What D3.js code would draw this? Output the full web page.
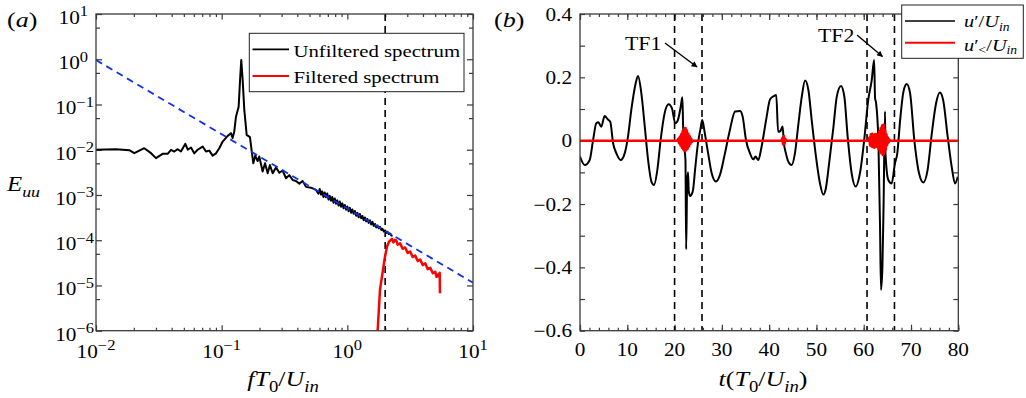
<!DOCTYPE html>
<html><head><meta charset="utf-8">
<script src="https://cdn.jsdelivr.net/npm/d3@7"></script>
<style>body{margin:0;background:#fff}svg{display:block}</style>
</head><body>
<svg id="c" width="1026" height="398"></svg>
<script>
// ---------- Panel (a): spectra ----------
const specF = [0.01,0.01442,0.01841,0.02018,0.02421,0.02742,0.03,0.03388,0.03715,0.03954,0.04198,0.04467,0.04742,0.0514,0.0537,0.057,0.0605,0.0644,0.0706,0.075,0.0798,0.0847,0.0902,0.0957,0.1019,0.1117,0.1186,0.1222,0.1259,0.13,0.1365,0.1406,0.1432,0.1469,0.1514,0.1581,0.1679,0.1742,0.1786,0.1849,0.1932,0.1991,0.2118,0.2213,0.2323,0.2421,0.2547,0.2704,0.2877,0.3055,0.3251,0.3451,0.3673,0.3899,0.415,0.4406,0.4688,0.514,0.5623,
 0.5888,0.6026,0.6166,0.631,0.6457,0.6607,0.6761,0.6918,0.7079,0.7244,0.7413,0.7586,0.7762,0.7943,0.8128,0.8318,0.8511,0.871,0.8913,0.912,0.9333,0.955,0.9772,1.0,1.023,1.047,1.072,1.096,1.122,1.148,1.175,1.202,1.23,1.259,1.288,1.318,1.349,1.38,1.413,1.445,1.479,1.514,1.549,1.585,1.622,1.66,1.698,1.738,1.778,1.82,1.862,1.905,1.95,1.995,2.042,2.089,2.138,2.188,2.239,2.291];
const specE = [0.00993,0.01028,0.00977,0.00839,0.01081,0.00839,0.00652,0.00813,0.00813,0.00993,0.00912,0.01028,0.00912,0.01349,0.01,0.01122,0.00832,0.01,0.01175,0.00912,0.00955,0.00741,0.00832,0.01081,0.01514,0.02023,0.02323,0.0182,0.02512,0.0537,0.0891,0.412,0.966,0.349,0.0759,0.02128,0.01905,0.00839,0.00501,0.00741,0.00562,0.00708,0.00331,0.00501,0.00302,0.00457,0.00302,0.00407,0.00309,0.00347,0.00234,0.00275,0.00214,0.00204,0.00178,0.00204,0.00151,0.00145,0.0013,
 1.072e-3,1.361e-3,1.016e-3,1.202e-3,8.99e-4,1.140e-3,8.91e-4,1.081e-3,7.89e-4,9.55e-4,7.48e-4,9.06e-4,6.76e-4,8.39e-4,6.41e-4,7.59e-4,5.81e-4,7.19e-4,5.50e-4,6.52e-4,5.09e-4,6.03e-4,4.72e-4,5.58e-4,4.37e-4,5.18e-4,4.05e-4,4.79e-4,3.84e-4,4.44e-4,3.47e-4,4.02e-4,3.21e-4,3.80e-4,3.05e-4,3.44e-4,2.75e-4,3.19e-4,2.61e-4,2.95e-4,2.42e-4,2.74e-4,2.24e-4,2.54e-4,2.07e-4,2.29e-4,1.92e-4,2.12e-4,1.82e-4,1.97e-4,1.69e-4,1.78e-4,1.56e-4,1.65e-4,1.45e-4,1.53e-4,1.37e-4,1.41e-4,1.27e-4,1.25e-4];
const filtF = [1.742,1.82,1.923,1.995,2.07,2.148,2.265,2.328,2.393,2.455,2.512,2.63,2.754,2.884,3.02,3.162,3.311,3.467,3.631,3.802,3.981,4.169,4.365,4.571,4.786,5.012,5.129,5.248,5.37,5.433,5.458];
const filtE = [1e-6,8.13e-6,2.24e-5,4.37e-5,7.24e-5,9.33e-5,1.07e-4,8.91e-5,1.02e-4,9.77e-5,7.94e-5,8.51e-5,6.46e-5,6.92e-5,5.25e-5,5.62e-5,4.27e-5,4.57e-5,3.47e-5,3.72e-5,2.82e-5,3.09e-5,2.29e-5,2.45e-5,1.86e-5,2.0e-5,1.55e-5,1.74e-5,1.58e-5,1.91e-5,6.76e-6];
const slopeF = [0.01, 10];
const slopeE = [0.96, 1.15e-5];
const cutoffF = [2];
const specXTicks = [1e-2, 1e-1, 1e0, 1e1];
const specXExp = ["−2", "−1", "0", "1"];
const specYTicks = [1e1, 1e0, 1e-1, 1e-2, 1e-3, 1e-4, 1e-5, 1e-6];
const specYExp = ["1", "0", "−1", "−2", "−3", "−4", "−5", "−6"];
const legendA = ["Unfiltered spectrum", "Filtered spectrum"];

// ---------- Panel (b): time signals ----------
const timeT = [0,1.0,2.05,2.75,3.45,3.9,4.5,5.2,5.9,6.4,7.0,7.7,8.6,9.45,10.15,10.85,11.7,12.27,12.97,13.7,14.4,15.1,15.65,16.35,17.05,17.9,18.75,19.45,20.15,20.7,21.3,21.65,21.8,21.9,22.3,22.45,22.65,22.85,23.0,23.3,23.55,23.9,24.4,24.95,25.5,25.85,26.4,27.1,27.85,28.75,29.6,30.65,31.7,32.8,33.85,34.4,35.1,35.95,36.65,37.1,37.7,38.4,39.35,40.2,41.0,41.5,41.9,42.4,42.85,43.1,43.55,44.05,44.75,45.45,46.2,46.9,47.6,48.3,49.0,49.9,50.75,51.45,52.0,52.6,53.6,54.3,55.2,55.9,56.6,57.45,58.3,59.2,60.1,60.95,61.7,62.2,62.4,62.6,63.1,63.45,63.65,63.95,64.2,64.5,64.6,65.2,65.9,66.6,67.1,67.7,68.4,69.1,69.8,70.7,71.7,72.6,73.5,74.4,75.3,76.1,76.8,77.75,78.6,79.3,79.9];
const uBlack = [-0.05,-0.077,-0.061,0.0,0.055,0.058,0.044,0.078,0.067,0.06,-0.008,-0.04,-0.061,-0.04,0.013,0.097,0.176,0.204,0.15,0.044,-0.061,-0.129,-0.14,-0.093,0.002,0.087,0.115,0.102,0.055,0.065,0.107,0.137,0.05,0.0,-0.06,-0.343,-0.14,-0.10,-0.16,-0.175,-0.171,-0.156,-0.082,-0.008,0.039,0.065,0.023,-0.04,-0.103,-0.129,-0.108,-0.04,0.034,0.092,0.094,0.076,0.002,-0.04,-0.059,-0.05,-0.061,-0.019,0.065,0.131,0.141,0.144,0.028,0.031,0.045,-0.005,-0.04,-0.066,-0.077,-0.04,0.055,0.139,0.19,0.16,0.065,-0.05,-0.135,-0.17,-0.15,-0.082,0.044,0.139,0.173,0.139,0.013,-0.103,-0.145,-0.103,0.002,0.128,0.192,0.255,0.134,0.12,0.0,-0.27,-0.471,-0.4,-0.2,0.092,-0.04,-0.124,-0.135,-0.072,-0.04,0.065,0.155,0.179,0.15,0.002,-0.103,-0.132,-0.093,0.023,0.118,0.152,0.128,0.013,-0.082,-0.135,-0.114];
const redT = [0,20.6,20.8,20.95,21.1,21.25,21.4,21.55,21.7,21.85,22.0,22.15,22.3,22.45,22.6,22.75,22.9,23.05,23.2,23.35,23.5,23.65,23.8,42.6,42.8,42.95,43.1,43.25,43.4,43.6,61.0,61.2,61.35,61.5,61.65,61.8,61.95,62.1,62.25,62.4,62.55,62.7,62.85,63.0,63.15,63.3,63.45,63.6,63.75,63.9,64.05,64.2,64.35,64.5,64.65,64.8,64.95,65.1,65.25,65.4,65.6,80];
const uRed = [0,0,0.006,-0.008,0.012,-0.015,0.02,-0.022,0.03,-0.028,0.038,-0.032,0.04,-0.03,0.032,-0.025,0.022,-0.018,0.014,-0.01,0.007,-0.004,0,0,0.008,-0.012,0.015,-0.01,0.006,0,0,0.01,-0.015,0.02,-0.018,0.022,-0.02,0.018,-0.022,0.02,-0.018,0.02,-0.02,0.018,-0.025,0.03,-0.035,0.04,-0.04,0.048,-0.045,0.05,-0.04,0.035,-0.028,0.02,-0.014,0.01,-0.006,0.004,0,0];
const windowT = [20, 25.8, 60.7, 66.5];
const sigXTicks = [0,10,20,30,40,50,60,70,80];
const sigYTicks = [0.4,0.2,0,-0.2,-0.4,-0.6];
const sigYLabels = ["0.4","0.2","0","−0.2","−0.4","−0.6"];
const tfLabels = ["TF1","TF2"];

// ---------- drawing ----------
const svg = d3.select("#c");
const FONT = "'Liberation Serif','Times New Roman',serif";
const SX = 1.18;
const AX = "#3a3a3a";

function rich(parent, x, y, anchor, size, parts, fill) {
  const g = parent.append("g").attr("transform", `translate(${x},${y}) scale(${SX},1)`);
  const t = g.append("text").attr("text-anchor", anchor).attr("font-family", FONT)
    .attr("font-size", size).attr("fill", fill || "#000");
  let off = 0;
  parts.forEach(p => {
    const s = typeof p === "string" ? {t: p} : p;
    let target = 0, fs = size;
    if (s.sup) { target = -0.42 * size; fs = 0.72 * size; }
    if (s.sub) { target = 0.28 * size; fs = 0.72 * size; }
    if (s.raw != null) target = s.raw;
    if (s.fs) fs = s.fs;
    const ts = t.append("tspan").text(s.t).attr("font-size", fs).attr("dy", target - off);
    if (s.dx) ts.attr("dx", s.dx);
    if (s.it) ts.attr("font-style", "italic");
    off = target;
  });
  return g;
}

// ===== Panel (a) =====
const xL = d3.scaleLog().domain([1e-2, 1e1]).range([96, 473]);
const yL = d3.scaleLog().domain([1e-6, 1e1]).range([330.7, 14]);
const gA = svg.append("g");
svg.append("clipPath").attr("id", "clipA").append("rect")
  .attr("x", 96).attr("y", 14).attr("width", 377).attr("height", 316.7);

const minorX = [];
[-2, -1, 0].forEach(k => { for (let m = 2; m <= 9; m++) minorX.push(m * Math.pow(10, k)); });
const minorY = [-6,-5,-4,-3,-2,-1,0].map(k => 5 * Math.pow(10, k));

function tickAxis(g, axis, tx, ty) {
  g.append("g").attr("transform", `translate(${tx},${ty})`).call(axis)
    .call(s => s.select(".domain").remove())
    .call(s => s.selectAll("line").attr("stroke", AX).attr("stroke-width", 1.2));
}
tickAxis(gA, d3.axisBottom(xL).tickValues(specXTicks).tickSize(-5.5).tickFormat(""), 0, 330.7);
tickAxis(gA, d3.axisBottom(xL).tickValues(minorX).tickSize(-3).tickFormat(""), 0, 330.7);
tickAxis(gA, d3.axisTop(xL).tickValues(specXTicks).tickSize(-5.5).tickFormat(""), 0, 14);
tickAxis(gA, d3.axisTop(xL).tickValues(minorX).tickSize(-3).tickFormat(""), 0, 14);
tickAxis(gA, d3.axisLeft(yL).tickValues(specYTicks).tickSize(-6).tickFormat(""), 96, 0);
tickAxis(gA, d3.axisLeft(yL).tickValues(minorY).tickSize(-4).tickFormat(""), 96, 0);
tickAxis(gA, d3.axisRight(yL).tickValues(specYTicks).tickSize(-6).tickFormat(""), 473, 0);
tickAxis(gA, d3.axisRight(yL).tickValues(minorY).tickSize(-4).tickFormat(""), 473, 0);

const dA = gA.append("g").attr("clip-path", "url(#clipA)");
dA.append("line").attr("x1", xL(cutoffF[0])).attr("x2", xL(cutoffF[0]))
  .attr("y1", yL(1e1)).attr("y2", yL(1e-6))
  .attr("stroke", "#000").attr("stroke-width", 1.6).attr("stroke-dasharray", "7,5");
const lineA = d3.line().x(d => xL(d[0])).y(d => yL(d[1]));
dA.append("path").datum(d3.zip(specF, specE)).attr("d", lineA)
  .attr("fill", "none").attr("stroke", "#000").attr("stroke-width", 2).attr("stroke-linejoin", "round");
dA.append("path").datum(d3.zip(filtF, filtE)).attr("d", lineA)
  .attr("fill", "none").attr("stroke", "#f00").attr("stroke-width", 2.5).attr("stroke-linejoin", "round");
dA.append("path").datum(d3.zip(slopeF, slopeE)).attr("d", lineA)
  .attr("fill", "none").attr("stroke", "#1030ee").attr("stroke-width", 1.8).attr("stroke-dasharray", "7,5");

gA.append("rect").attr("x", 96).attr("y", 14).attr("width", 377).attr("height", 316.7)
  .attr("fill", "none").attr("stroke", AX).attr("stroke-width", 1.3);

// tick labels
specYTicks.forEach((v, i) => {
  const e = specYExp[i];
  const xe = e.startsWith("−") ? 94 : 88;
  rich(gA, xe, yL(v) + 10, "end", 18, ["10", {t: e, sup: true, fs: 14}]);
});
specXTicks.forEach((v, i) => {
  rich(gA, xL(v), 358, "middle", 18, ["10", {t: specXExp[i], sup: true, fs: 14}]);
});
// axis labels
rich(gA, 283, 386, "middle", 22, [{t: "f", it: true}, {t: "T", it: true}, {t: "0", sub: true}, {t: "/", raw: 0}, {t: "U", it: true}, {t: "in", it: true, sub: true}]);
rich(gA, 7, 191, "start", 21, [{t: "E", it: true}, {t: "uu", it: true, sub: true}]);
rich(gA, 7, 27, "start", 22, ["(", {t: "a", it: true}, ")"]);

// legend a
const lgA = gA.append("g");
lgA.append("rect").attr("x", 249.3).attr("y", 33.3).attr("width", 214.7).attr("height", 58.4)
  .attr("fill", "#fff").attr("stroke", "#222").attr("stroke-width", 1);
lgA.append("line").attr("x1", 252.5).attr("x2", 289).attr("y1", 49.3).attr("y2", 49.3).attr("stroke", "#000").attr("stroke-width", 1.8);
lgA.append("line").attr("x1", 252.5).attr("x2", 289).attr("y1", 76).attr("y2", 76).attr("stroke", "#f00").attr("stroke-width", 1.8);
rich(lgA, 293.5, 56.5, "start", 17.6, [legendA[0]]);
rich(lgA, 293.5, 82.8, "start", 17.6, [legendA[1]]);

// ===== Panel (b) =====
const xR = d3.scaleLinear().domain([0, 80]).range([580, 958.3]);
const yR = d3.scaleLinear().domain([-0.6, 0.4]).range([330.7, 14]);
const gB = svg.append("g");
svg.append("clipPath").attr("id", "clipB").append("rect")
  .attr("x", 580).attr("y", 14).attr("width", 378.3).attr("height", 316.7);

const minorT = d3.range(0, 81, 2);
const yTicksAll = d3.range(-6, 5).map(k => k / 10);
tickAxis(gB, d3.axisBottom(xR).tickValues(sigXTicks).tickSize(-6).tickFormat(""), 0, 330.7);
tickAxis(gB, d3.axisBottom(xR).tickValues(minorT).tickSize(-3).tickFormat(""), 0, 330.7);
tickAxis(gB, d3.axisTop(xR).tickValues(sigXTicks).tickSize(-6).tickFormat(""), 0, 14);
tickAxis(gB, d3.axisTop(xR).tickValues(minorT).tickSize(-3).tickFormat(""), 0, 14);
tickAxis(gB, d3.axisLeft(yR).tickValues(yTicksAll).tickSize(-5).tickFormat(""), 580, 0);
tickAxis(gB, d3.axisRight(yR).tickValues(yTicksAll).tickSize(-5).tickFormat(""), 958.3, 0);

const dB = gB.append("g").attr("clip-path", "url(#clipB)");
windowT.forEach(t => {
  dB.append("line").attr("x1", xR(t)).attr("x2", xR(t)).attr("y1", 14).attr("y2", 332)
    .attr("stroke", "#000").attr("stroke-width", 1.6).attr("stroke-dasharray", "7,5");
});
const lineB = d3.line().x(d => xR(d[0])).y(d => yR(d[1])).curve(d3.curveMonotoneX);
const lineR = d3.line().x(d => xR(d[0])).y(d => yR(d[1]));
dB.append("path").datum(d3.zip(timeT, uBlack)).attr("d", lineB)
  .attr("fill", "none").attr("stroke", "#000").attr("stroke-width", 2).attr("stroke-linejoin", "round");
dB.append("path").datum(d3.zip(redT, uRed)).attr("d", lineR)
  .attr("fill", "none").attr("stroke", "#f00").attr("stroke-width", 2.6).attr("stroke-linejoin", "round");

gB.append("rect").attr("x", 580).attr("y", 14).attr("width", 378.3).attr("height", 316.7)
  .attr("fill", "none").attr("stroke", AX).attr("stroke-width", 1.3);

sigYTicks.forEach((v, i) => rich(gB, 572, yR(v) + 6.5, "end", 18, [sigYLabels[i]]));
sigXTicks.forEach(v => rich(gB, xR(v), 355.5, "middle", 18, [String(v)]));
rich(gB, 763, 386, "middle", 22, [{t: "t", it: true}, "(", {t: "T", it: true}, {t: "0", sub: true}, {t: "/", raw: 0}, {t: "U", it: true}, {t: "in", it: true, sub: true}, {t: ")", raw: 0}]);
rich(gB, 494, 27, "start", 22, ["(", {t: "b", it: true}, ")"]);

// TF annotations
const defs = svg.append("defs");
defs.append("marker").attr("id", "arr").attr("viewBox", "0 0 10 10").attr("refX", 9).attr("refY", 5)
  .attr("markerWidth", 8).attr("markerHeight", 6).attr("orient", "auto").attr("markerUnits", "userSpaceOnUse")
  .append("path").attr("d", "M0,0 L10,5 L0,10 z").attr("fill", "#000");
rich(gB, 625, 50, "start", 18.5, [tfLabels[0]]);
gB.append("line").attr("x1", 665).attr("y1", 43).attr("x2", 697).attr("y2", 67)
  .attr("stroke", "#000").attr("stroke-width", 1.4).attr("marker-end", "url(#arr)");
rich(gB, 818, 42, "start", 18.5, [tfLabels[1]]);
gB.append("line").attr("x1", 857).attr("y1", 35).attr("x2", 882.5).attr("y2", 56.5)
  .attr("stroke", "#000").attr("stroke-width", 1.4).attr("marker-end", "url(#arr)");

// legend b
const lgB = gB.append("g");
lgB.append("rect").attr("x", 901.7).attr("y", 5).attr("width", 121.6).attr("height", 53.3)
  .attr("fill", "#fff").attr("stroke", "#222").attr("stroke-width", 1);
lgB.append("line").attr("x1", 905).attr("x2", 955).attr("y1", 21).attr("y2", 21).attr("stroke", "#000").attr("stroke-width", 1.6);
lgB.append("line").attr("x1", 905).attr("x2", 955).attr("y1", 42.7).attr("y2", 42.7).attr("stroke", "#f00").attr("stroke-width", 2);
rich(lgB, 964, 27, "start", 17.2, [{t: "u", it: true}, {t: "′", raw: 0}, {t: "/", raw: 0}, {t: "U", it: true}, {t: "in", it: true, raw: 3.5, fs: 11.5}]);
rich(lgB, 964, 50.5, "start", 17.2, [{t: "u", it: true}, {t: "′", raw: 0}, {t: "<", raw: 3.5, fs: 11.5}, {t: "/", raw: 0}, {t: "U", it: true}, {t: "in", it: true, raw: 3.5, fs: 11.5}]);
</script>
</body></html>
